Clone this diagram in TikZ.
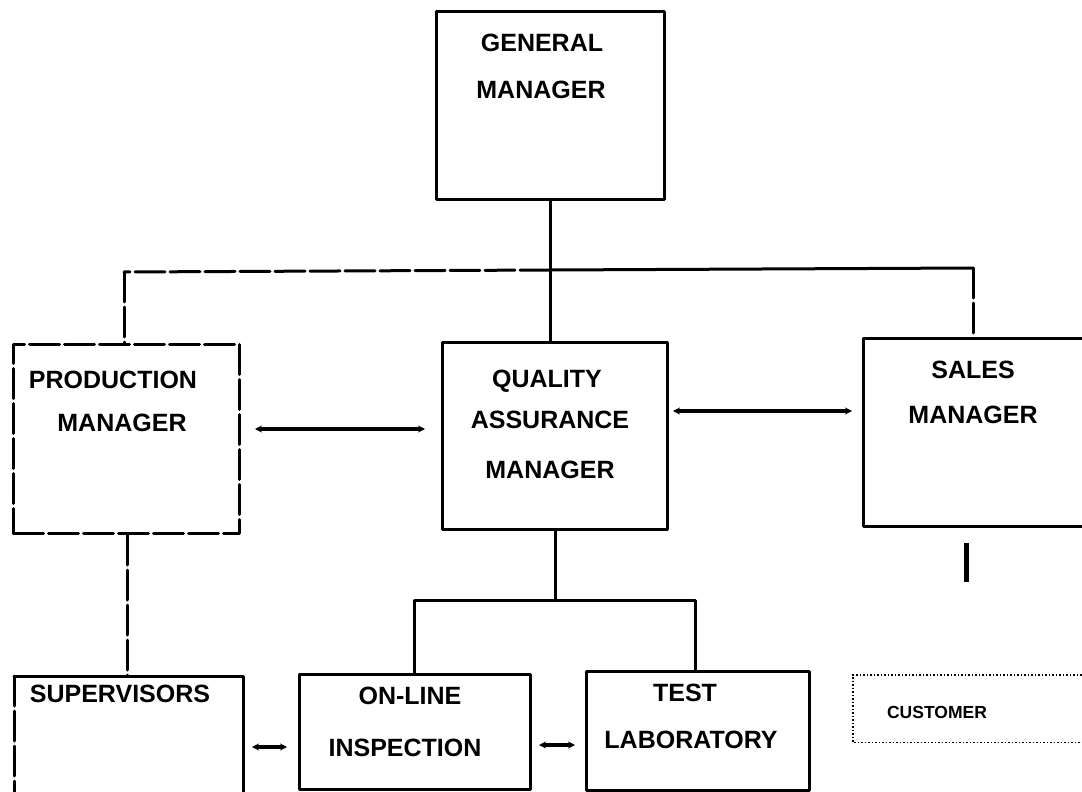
\documentclass[tikz,border=0pt]{standalone}
\usepackage{fontspec}
\setmainfont{Liberation Sans}
\usetikzlibrary{arrows.meta}
\tikzset{
  x=1pt, y=-1pt,
  ln/.style={line width=3pt, line cap=round, line join=round},
  dsh/.style={ln, dash pattern=on 30pt off 5pt},
  box/.style={ln, draw, anchor=north west, inner sep=0pt},
  lbl/.style={font=\fontsize{25}{25}\selectfont\bfseries, inner sep=0pt, anchor=center},
  small/.style={font=\fontsize{17.5}{17.5}\selectfont\bfseries, inner sep=0pt, anchor=center},
  dbl/.style={line width=3.5pt, {Stealth[length=7pt,width=7pt]}-{Stealth[length=7pt,width=7pt]}},
}
\begin{document}
\begin{tikzpicture}
\path[use as bounding box, clip] (0,0) rectangle (1082,792);
\fill[white] (0,0) rectangle (1082,792);

% boxes
\node[box, minimum width=228pt, minimum height=188pt] (gm) at (435,10) {};
\node[box, dsh, minimum width=226pt, minimum height=189pt] (pm) at (12,343) {};
\node[box, minimum width=225pt, minimum height=187pt] (qa) at (441,341) {};
\node[box, minimum width=260pt, minimum height=188pt] (sm) at (862,337) {};
\node[anchor=north west, inner sep=0pt, minimum width=229pt, minimum height=130pt] (sup) at (14,676) {};
\draw[ln] (sup.south east) -- (sup.north east) -- (sup.north west);
\draw[dsh] (sup.north west) -- (sup.south west);
\node[box, minimum width=231pt, minimum height=115pt] (ol) at (298,673) {};
\node[box, minimum width=223pt, minimum height=119pt] (tl) at (585,670) {};
\node[anchor=north west, inner sep=0pt, minimum width=260pt, minimum height=67pt] (cu) at (853,675) {};
\draw[line width=1.5pt, dotted] (cu.north east) -- (cu.north west) -- (cu.south west) -- (cu.south east);

% labels
\node[lbl] (t1) at (542,43) {GENERAL};
\node[lbl] (t2) at (541,90) {MANAGER};
\node[lbl] (t3) at (113,380) {PRODUCTION};
\node[lbl] (t4) at (122,423) {MANAGER};
\node[lbl] (t5) at (547,381) {QUALITY};
\node[lbl] (t6) at (550,420) {ASSURANCE};
\node[lbl] (t7) at (550,470) {MANAGER};
\node[lbl] (t8) at (973,370) {SALES};
\node[lbl] (t9) at (973,415) {MANAGER};
\node[lbl] (t10) at (120,694) {SUPERVISORS};
\node[lbl] (t11) at (410,696) {ON-LINE};
\node[lbl] (t12) at (405,748) {INSPECTION};
\node[lbl] (t13) at (685,693) {TEST};
\node[lbl] (t14) at (691,740) {LABORATORY};
\node[small] (t15) at (937,712) {CUSTOMER};

% hierarchy connectors
\coordinate (bar) at (550,270);
\coordinate (barL) at (124,272);
\coordinate (barR) at (973,268);
\draw[ln] (gm.south -| bar) -- (bar) -- (qa.north -| bar);
\draw[ln] (bar) -- (barR);
\draw[dsh] (bar) -- (barL);
\draw[dsh] (barL) -- (pm.north -| barL);
\draw[dsh] (barR) -- (sm.north -| barR);

\coordinate (qb) at (555,600);
\coordinate (qbL) at (414,600);
\coordinate (qbR) at (695,600);
\draw[ln] (qa.south -| qb) -- (qb);
\draw[ln] (ol.north -| qbL) -- (qbL) -- (qbR) -- (tl.north -| qbR);

\coordinate (pd) at (127,0);
\draw[dsh] (pm.south -| pd) -- (sup.north -| pd);

\coordinate (sdTop) at (966,543);
\coordinate (sdBot) at (966,582);
\draw[line width=5pt] (sdTop) -- (sdBot);

% horizontal arrows
\draw[dbl] (255,429) -- (425,429);
\draw[dbl] (673,411) -- (852,411);
\draw[dbl] (252,747) -- (287,747);
\draw[dbl] (539,745) -- (575,745);
\end{tikzpicture}
\end{document}
